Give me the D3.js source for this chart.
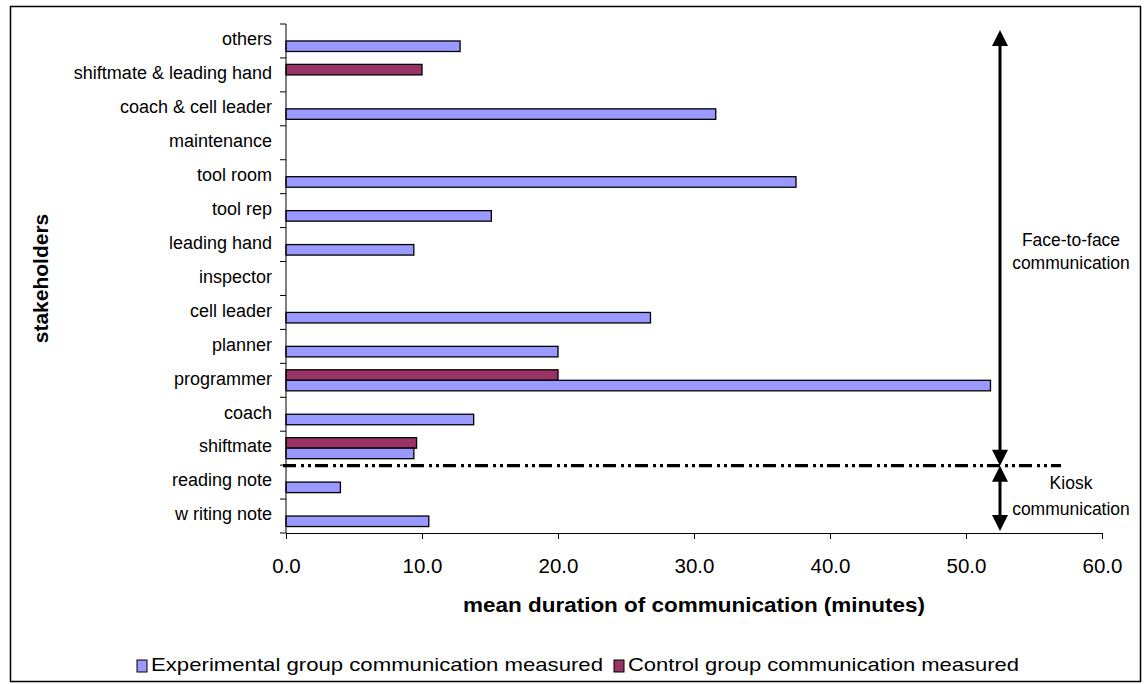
<!DOCTYPE html>
<html>
<head>
<meta charset="utf-8">
<script src="https://cdn.jsdelivr.net/npm/d3@7/dist/d3.min.js"></script>
<style>
  html, body { margin: 0; padding: 0; background: #fff; }
  svg { display: block; font-family: Arial, "Liberation Sans", sans-serif; }
</style>
</head>
<body>
<svg id="chart" width="1147" height="684"></svg>
<script>
// Stakeholders, listed top to bottom
const categories = [
  "others", "shiftmate & leading hand", "coach & cell leader", "maintenance",
  "tool room", "tool rep", "leading hand", "inspector", "cell leader",
  "planner", "programmer", "coach", "shiftmate", "reading note", "w riting note"
];
// Mean duration of communication (minutes); null = no bar
const experimental = [12.8, null, 31.6, null, 37.5, 15.1, 9.4, null, 26.8, 20.0, 51.8, 13.8, 9.4, 4.0, 10.5];
const control      = [null, 10.0, null, null, null, null, null, null, null, null, 20.0, null, 9.6, null, null];
const xTicks = [0, 10, 20, 30, 40, 50, 60];
const seriesNames = ["Experimental group communication measured", "Control group communication measured"];
const seriesColors = ["#9999FF", "#993366"];

const svg = d3.select("#chart");

// outer frame
svg.append("rect").attr("x", 10.5).attr("y", 6.5).attr("width", 1130).attr("height", 675)
  .attr("fill", "#fff").attr("stroke", "#000").attr("stroke-width", 1.5);

const plot = { left: 286, right: 1102, top: 24, bottom: 533 };

const x = d3.scaleLinear().domain([0, 60]).range([plot.left, plot.right]);
const y = d3.scaleBand().domain(categories).range([plot.top, plot.bottom])
  .paddingInner(0.38).paddingOuter(0.19);
const sub = d3.scaleBand().domain(["control", "experimental"]).range([0, y.bandwidth()]);

// bars
const rows = categories.map((c, i) => ({ c, exp: experimental[i], ctl: control[i] }));
const g = svg.append("g");
g.selectAll("rect.ctl").data(rows.filter(d => d.ctl != null)).join("rect")
  .attr("class", "ctl")
  .attr("x", x(0)).attr("y", d => y(d.c) + sub("control"))
  .attr("width", d => x(d.ctl) - x(0)).attr("height", sub.bandwidth())
  .attr("fill", seriesColors[1]).attr("stroke", "#000").attr("stroke-width", 1.3);
g.selectAll("rect.exp").data(rows.filter(d => d.exp != null)).join("rect")
  .attr("class", "exp")
  .attr("x", x(0)).attr("y", d => y(d.c) + sub("experimental"))
  .attr("width", d => x(d.exp) - x(0)).attr("height", sub.bandwidth())
  .attr("fill", seriesColors[0]).attr("stroke", "#000").attr("stroke-width", 1.3);

// y axis: line, tick marks at band boundaries, labels
const step = (plot.bottom - plot.top) / categories.length;
svg.append("line").attr("x1", plot.left).attr("x2", plot.left)
  .attr("y1", plot.top).attr("y2", plot.bottom).attr("stroke", "#000").attr("stroke-width", 1);
svg.append("g").selectAll("line").data(d3.range(categories.length + 1)).join("line")
  .attr("x1", plot.left - 6).attr("x2", plot.left)
  .attr("y1", i => plot.top + i * step).attr("y2", i => plot.top + i * step)
  .attr("stroke", "#000");
svg.append("g").selectAll("text").data(categories).join("text")
  .attr("x", 272).attr("y", d => y(d) + y.bandwidth() / 2 - 2)
  .attr("dy", "0.35em").attr("text-anchor", "end")
  .attr("font-size", 18).attr("fill", "#000").text(d => d);

// x axis
const xAxis = svg.append("g").attr("transform", `translate(0,${plot.bottom})`)
  .call(d3.axisBottom(x).tickValues(xTicks).tickFormat(d3.format(".1f")).tickSizeOuter(0).tickSize(6));
xAxis.select(".domain").attr("stroke", "#000");
xAxis.selectAll(".tick line").attr("stroke", "#000");
xAxis.selectAll(".tick text").attr("font-size", 20.5).attr("font-family", "Arial, 'Liberation Sans', sans-serif")
  .attr("fill", "#000").attr("dy", 0).attr("y", 40);

// axis titles
svg.append("text").attr("x", (plot.left + plot.right) / 2).attr("y", 612)
  .attr("text-anchor", "middle").attr("font-weight", "bold").attr("font-size", 21)
  .attr("textLength", 462).attr("lengthAdjust", "spacingAndGlyphs")
  .text("mean duration of communication (minutes)");
svg.append("text").attr("transform", `translate(48,${(plot.top + plot.bottom) / 2}) rotate(-90)`)
  .attr("text-anchor", "middle").attr("font-weight", "bold").attr("font-size", 21)
  .text("stakeholders");

// separator between face-to-face and kiosk communication
const sepY = y("shiftmate") + y.step() - (y.step() - y.bandwidth()) / 2 + 0.5;
svg.append("line").attr("x1", 283).attr("x2", 1061).attr("y1", sepY).attr("y2", sepY)
  .attr("stroke", "#000").attr("stroke-width", 3.2)
  .attr("stroke-dasharray", "13,5,3,4,3,4");

// range arrows
const arrowX = 1000;
function arrowHead(tipY, dir) {
  // dir = -1 points up, +1 points down
  const h = 16, w = 8;
  svg.append("path")
    .attr("d", `M${arrowX},${tipY} L${arrowX - w},${tipY - dir * h} L${arrowX + w},${tipY - dir * h} Z`)
    .attr("fill", "#000");
}
const topTip = 30, kioskBottom = 531;
svg.append("line").attr("x1", arrowX).attr("x2", arrowX).attr("y1", topTip + 10).attr("y2", sepY - 10)
  .attr("stroke", "#000").attr("stroke-width", 3);
arrowHead(topTip, -1);
arrowHead(sepY, 1);
svg.append("line").attr("x1", arrowX).attr("x2", arrowX).attr("y1", sepY + 10).attr("y2", kioskBottom - 10)
  .attr("stroke", "#000").attr("stroke-width", 3);
arrowHead(sepY, -1);
arrowHead(kioskBottom, 1);

// range labels
const noteX = 1071;
const notes = [
  { t: "Face-to-face", y: 246 }, { t: "communication", y: 269 },
  { t: "Kiosk", y: 489 }, { t: "communication", y: 515 }
];
svg.append("g").selectAll("text").data(notes).join("text")
  .attr("x", noteX).attr("y", d => d.y).attr("text-anchor", "middle")
  .attr("font-size", 17.5).attr("fill", "#000").text(d => d.t);

// legend
const legend = svg.append("g");
const legendItems = [
  { name: seriesNames[0], color: seriesColors[0], x: 137, len: 452 },
  { name: seriesNames[1], color: seriesColors[1], x: 614, len: 391 }
];
legend.selectAll("rect").data(legendItems).join("rect")
  .attr("x", d => d.x).attr("y", 660).attr("width", 10).attr("height", 12)
  .attr("fill", d => d.color).attr("stroke", "#000").attr("stroke-width", 1);
legend.selectAll("text").data(legendItems).join("text")
  .attr("x", d => d.x + 14).attr("y", 671).attr("font-size", 19)
  .attr("textLength", d => d.len).attr("lengthAdjust", "spacingAndGlyphs")
  .attr("fill", "#000").text(d => d.name);
</script>
</body>
</html>
